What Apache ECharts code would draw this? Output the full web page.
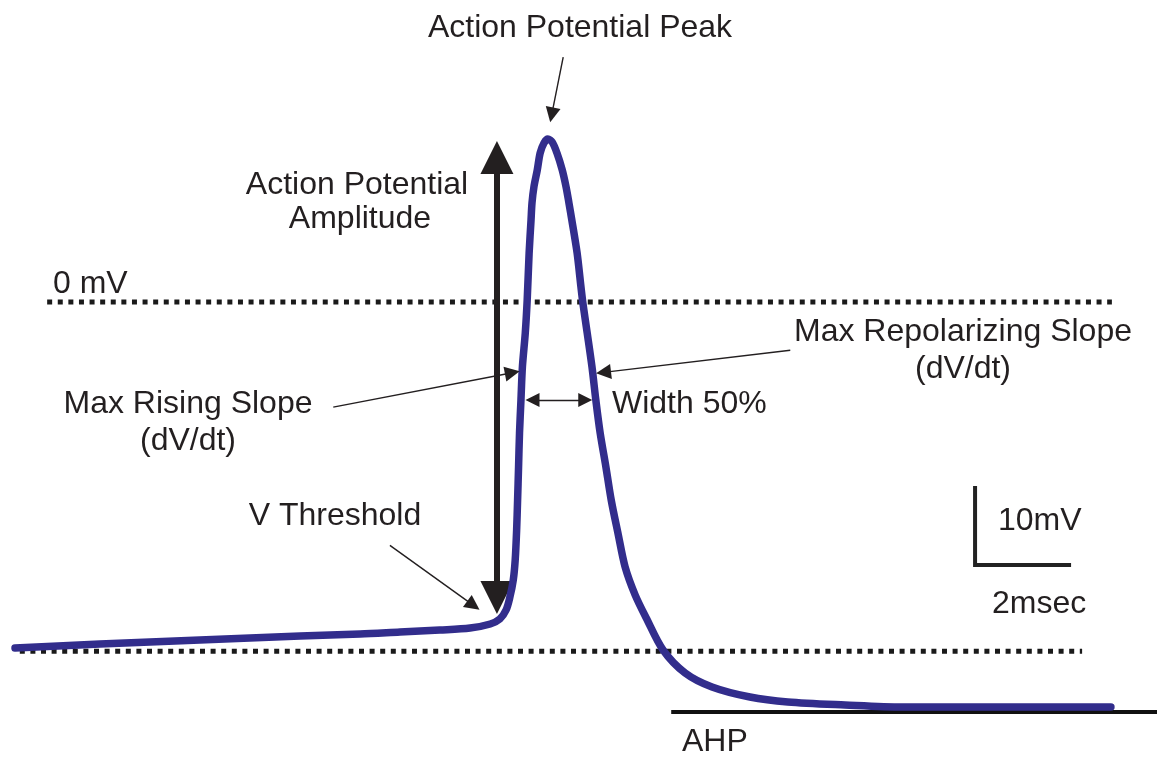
<!DOCTYPE html>
<html><head><meta charset="utf-8">
<script src="https://cdn.jsdelivr.net/npm/echarts@6/dist/echarts.min.js"></script>
<style>html,body{margin:0;padding:0;background:#fff}#c{width:1157px;height:758px}</style>
</head><body><div id="c"></div>
<script>
// Action potential trace: time (ms), membrane potential (mV)
const timeMs = [0,1.77,3.85,5.94,7.19,8.02,8.85,9.48,9.90,10.10,10.23,10.31,10.38,10.42,10.45,10.47,10.49,10.51,10.54,10.57,10.63,10.67,10.71,10.75,10.77,10.81,10.88,10.94,11.02,11.10,11.19,11.29,11.40,11.48,11.54,11.60,11.71,11.79,11.83,11.92,12.02,12.10,12.19,12.31,12.42,12.56,12.71,12.92,13.15,13.50,13.96,14.52,15.31,16.10,17.29,18.48,20.06,21.65,22.83];
const voltageMv = [-43.80,-43.29,-42.78,-42.28,-42.03,-41.77,-41.52,-41.27,-40.76,-40.13,-38.99,-37.34,-35.19,-32.66,-28.86,-25.06,-20.89,-16.58,-12.41,-8.23,-3.92,0.25,6.20,10.38,12.53,14.56,16.71,18.86,20.13,20.63,20.25,18.86,16.71,14.56,12.53,10.38,6.20,1.90,-0.13,-3.92,-8.23,-12.41,-16.58,-20.89,-25.06,-29.24,-33.54,-37.10,-40.00,-44.05,-46.96,-48.73,-50.00,-50.63,-51.01,-51.27,-51.27,-51.27,-51.27];

// reference levels (mV)
const zeroLevel = 0;
const thresholdLevel = -44.2;
const ahpLevel = -51.9;
// reference line extents (ms)
const zeroLineRange = [0.67, 22.85];
const thresholdLineRange = [0.1, 22.23];
const ahpLineRange = [13.67, 23.8];

// scale bar: 2 ms, 10 mV
const scaleBarOrigin = [20.0, -33.3];
const scaleBarSize = [2, 10];

// annotation arrows [fromT, fromV, toT, toV]
const peakArrow = [11.42, 31.0, 11.18, 23.7];
const risingArrow = [6.63, -13.3, 10.36, -8.95];
const repolArrow = [16.15, -6.1, 12.26, -8.9];
const thresholdArrow = [7.81, -30.8, 9.55, -38.4];
const widthArrow = [10.78, -12.4, 11.88, -12.4];
const amplitudeArrow = [10.04, 18.3, 10.04, -37.4];

const chart = echarts.init(document.getElementById('c'), null, {renderer:'canvas'});
const FONT = '"Liberation Sans", Arial, sans-serif';
const TXT = '#231f20';

function seg(a){ return {coords:[[a[0],a[1]],[a[2],a[3]]]}; }

const txt = (t, x, y, align) => ({type:'text', style:{text:t, x:x, y:y, fill:TXT, font:'32px ' + FONT, textAlign:align||'left', textVerticalAlign:'middle'}});

chart.setOption({
  animation:false,
  grid:{left:0,right:0,top:0,bottom:0},
  xAxis:{type:'value', min:-0.3125, max:23.79, show:false},
  yAxis:{type:'value', min:-57.72, max:38.23, show:false},
  series:[
    {type:'line', data:[[zeroLineRange[0],zeroLevel],[zeroLineRange[1],zeroLevel]], showSymbol:false, silent:true,
      lineStyle:{color:'#1a1a1a', width:5, type:[5,5.6]}},
    {type:'line', data:[[thresholdLineRange[0],thresholdLevel],[thresholdLineRange[1],thresholdLevel]], showSymbol:false, silent:true,
      lineStyle:{color:'#1a1a1a', width:5, type:[5,5.6]}},
    {type:'line', data:[[ahpLineRange[0],ahpLevel],[ahpLineRange[1],ahpLevel]], showSymbol:false, silent:true,
      lineStyle:{color:'#111', width:4}},
    {type:'line', data:[[scaleBarOrigin[0],scaleBarOrigin[1]+scaleBarSize[1]],[scaleBarOrigin[0],scaleBarOrigin[1]],[scaleBarOrigin[0]+scaleBarSize[0],scaleBarOrigin[1]]],
      showSymbol:false, silent:true, lineStyle:{color:'#222', width:4, join:'miter'}},
    {type:'line', data:timeMs.map((t,i)=>[t,voltageMv[i]]), showSymbol:false, smooth:0.3, z:5,
      lineStyle:{color:'#322d8c', width:7.5, cap:'round', join:'round'}},
    {type:'lines', coordinateSystem:'cartesian2d', z:6, silent:true,
      symbol:['none','triangle'], symbolSize:[14,15],
      lineStyle:{color:'#231f20', width:1.4, opacity:1},
      data:[seg(peakArrow), seg(risingArrow), seg(repolArrow), seg(thresholdArrow)]},
    {type:'lines', coordinateSystem:'cartesian2d', z:6, silent:true,
      symbol:['triangle','triangle'], symbolSize:[14,14],
      lineStyle:{color:'#231f20', width:1.4, opacity:1},
      data:[seg(widthArrow)]},
    {type:'lines', coordinateSystem:'cartesian2d', z:4, silent:true,
      symbol:['triangle','triangle'], symbolSize:[33,33],
      lineStyle:{color:'#231f20', width:6, opacity:1},
      data:[seg(amplitudeArrow)]}
  ],
  graphic:[
    txt('Action Potential Peak', 580, 28, 'center'),
    txt('Action Potential', 357, 185, 'center'),
    txt('Amplitude', 360, 219, 'center'),
    txt('0 mV', 53, 284.5),
    txt('Max Repolarizing Slope', 963, 332, 'center'),
    txt('(dV/dt)', 963, 369, 'center'),
    txt('Max Rising Slope', 188, 404, 'center'),
    txt('(dV/dt)', 188, 441, 'center'),
    txt('Width 50%', 612, 404),
    txt('V Threshold', 335, 516, 'center'),
    txt('10mV', 998, 521),
    txt('2msec', 992, 604.5),
    txt('AHP', 682, 742)
  ]
});
</script></body></html>
